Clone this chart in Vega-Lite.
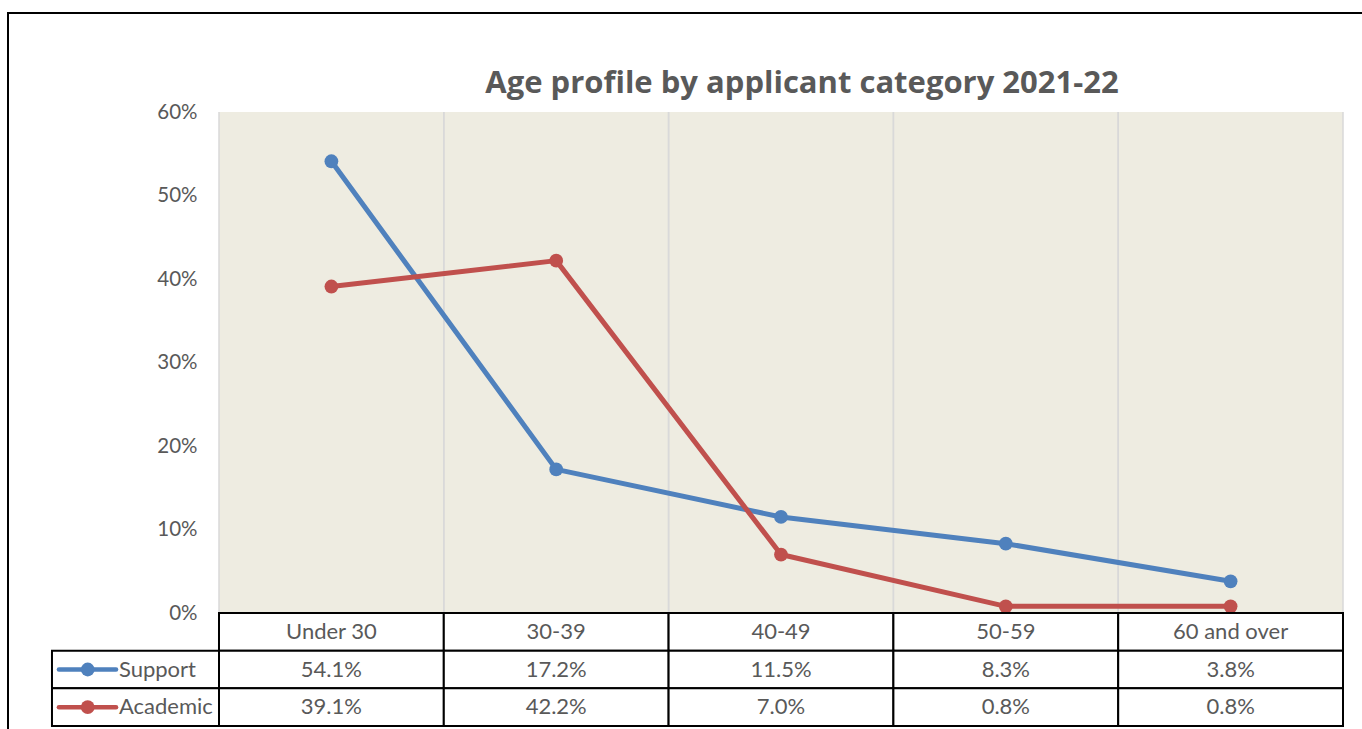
{
  "$schema": "https://vega.github.io/schema/vega-lite/v6.json",
  "width": 1354,
  "height": 716,
  "autosize": {"type": "none"},
  "padding": {"left": 8, "top": 13, "right": 0, "bottom": 0},
  "background": "white",
  "title": {
    "text": "Age profile by applicant category 2021-22",
    "anchor": "middle",
    "frame": "group",
    "dx": 117,
    "offset": -87,
    "font": "Open Sans",
    "fontSize": 31,
    "fontWeight": "bold",
    "color": "#595959"
  },
  "config": {
    "view": {"stroke": "black", "strokeWidth": 2, "strokeDash": [1354, 2070, 716]},
    "font": "Lato"
  },
  "data": {
    "values": [
      {"age": "Under 30", "series": "Support", "value": 0.541},
      {"age": "30-39", "series": "Support", "value": 0.172},
      {"age": "40-49", "series": "Support", "value": 0.115},
      {"age": "50-59", "series": "Support", "value": 0.083},
      {"age": "60 and over", "series": "Support", "value": 0.038},
      {"age": "Under 30", "series": "Academic", "value": 0.391},
      {"age": "30-39", "series": "Academic", "value": 0.422},
      {"age": "40-49", "series": "Academic", "value": 0.070},
      {"age": "50-59", "series": "Academic", "value": 0.008},
      {"age": "60 and over", "series": "Academic", "value": 0.008}
    ]
  },
  "layer": [
    {
      "layer": [
        {
          "transform": [{"filter": "datum.series === 'Support'"}],
          "mark": {"type": "rect", "fill": "#EEECE1"},
          "encoding": {
            "x": {"field": "age", "type": "nominal", "scale": {"type": "band", "domain": ["Under 30", "30-39", "40-49", "50-59", "60 and over"], "range": [211, 1335], "paddingInner": 0, "paddingOuter": 0}, "axis": null},
            "y": {"datum": 0, "type": "quantitative", "scale": {"domain": [0, 0.6], "range": [600, 99], "nice": false, "zero": false}, "axis": {"values": [0, 0.1, 0.2, 0.3, 0.4, 0.5, 0.6], "format": ".0%", "offset": -211, "ticks": false, "domain": false, "grid": false, "labelPadding": 22, "labelFontSize": 20.5, "labelColor": "#595959", "labelFont": "Lato", "title": null}},
            "y2": {"datum": 0.6}
          }
        },
        {
          "transform": [{"filter": "datum.series === 'Support'"}],
          "mark": {"type": "rule", "stroke": "#D9D9D9", "strokeWidth": 1.5},
          "encoding": {
            "x": {"field": "age", "type": "nominal", "bandPosition": 0, "scale": {"type": "band", "domain": ["Under 30", "30-39", "40-49", "50-59", "60 and over"], "range": [211, 1335], "paddingInner": 0, "paddingOuter": 0}, "axis": null},
            "y": {"datum": 0, "type": "quantitative", "scale": {"domain": [0, 0.6], "range": [600, 99], "nice": false, "zero": false}, "axis": {"values": [0, 0.1, 0.2, 0.3, 0.4, 0.5, 0.6], "format": ".0%", "offset": -211, "ticks": false, "domain": false, "grid": false, "labelPadding": 22, "labelFontSize": 20.5, "labelColor": "#595959", "labelFont": "Lato", "title": null}},
            "y2": {"datum": 0.6}
          }
        },
        {
          "transform": [{"filter": "datum.series === 'Support'"}],
          "mark": {"type": "rule", "stroke": "#D9D9D9", "strokeWidth": 1.5},
          "encoding": {
            "x": {"field": "age", "type": "nominal", "bandPosition": 1, "scale": {"type": "band", "domain": ["Under 30", "30-39", "40-49", "50-59", "60 and over"], "range": [211, 1335], "paddingInner": 0, "paddingOuter": 0}, "axis": null},
            "y": {"datum": 0, "type": "quantitative", "scale": {"domain": [0, 0.6], "range": [600, 99], "nice": false, "zero": false}, "axis": {"values": [0, 0.1, 0.2, 0.3, 0.4, 0.5, 0.6], "format": ".0%", "offset": -211, "ticks": false, "domain": false, "grid": false, "labelPadding": 22, "labelFontSize": 20.5, "labelColor": "#595959", "labelFont": "Lato", "title": null}},
            "y2": {"datum": 0.6}
          }
        },
        {
          "mark": {"type": "line", "strokeWidth": 5, "strokeCap": "round", "strokeJoin": "round"},
          "encoding": {
            "x": {"field": "age", "type": "nominal", "scale": {"type": "band", "domain": ["Under 30", "30-39", "40-49", "50-59", "60 and over"], "range": [211, 1335], "paddingInner": 0, "paddingOuter": 0}, "axis": null},
            "y": {"field": "value", "type": "quantitative", "scale": {"domain": [0, 0.6], "range": [600, 99], "nice": false, "zero": false}, "axis": {"values": [0, 0.1, 0.2, 0.3, 0.4, 0.5, 0.6], "format": ".0%", "offset": -211, "ticks": false, "domain": false, "grid": false, "labelPadding": 22, "labelFontSize": 20.5, "labelColor": "#595959", "labelFont": "Lato", "title": null}},
            "color": {"field": "series", "type": "nominal", "scale": {"domain": ["Support", "Academic"], "range": ["#4F81BD", "#C0504D"]}, "legend": null},
            "order": {"value": null}
          }
        },
        {
          "mark": {"type": "point", "filled": true, "opacity": 1, "size": 190, "shape": "circle"},
          "encoding": {
            "x": {"field": "age", "type": "nominal", "scale": {"type": "band", "domain": ["Under 30", "30-39", "40-49", "50-59", "60 and over"], "range": [211, 1335], "paddingInner": 0, "paddingOuter": 0}, "axis": null},
            "y": {"field": "value", "type": "quantitative", "scale": {"domain": [0, 0.6], "range": [600, 99], "nice": false, "zero": false}, "axis": {"values": [0, 0.1, 0.2, 0.3, 0.4, 0.5, 0.6], "format": ".0%", "offset": -211, "ticks": false, "domain": false, "grid": false, "labelPadding": 22, "labelFontSize": 20.5, "labelColor": "#595959", "labelFont": "Lato", "title": null}},
            "color": {"field": "series", "type": "nominal", "scale": {"domain": ["Support", "Academic"], "range": ["#4F81BD", "#C0504D"]}, "legend": null}
          }
        }
      ]
    },
    {
      "layer": [
        {
          "transform": [{"filter": "datum.series === 'Support'"}],
          "mark": {"type": "rect", "fill": "white", "stroke": "black", "strokeWidth": 2},
          "encoding": {
            "x": {"field": "age", "type": "nominal", "scale": {"type": "band", "domain": ["Under 30", "30-39", "40-49", "50-59", "60 and over"], "range": [211, 1335], "paddingInner": 0, "paddingOuter": 0}, "axis": null},
            "y": {"datum": "Category", "type": "nominal", "scale": {"type": "band", "domain": ["Category", "Support", "Academic"], "range": [600, 713], "paddingInner": 0, "paddingOuter": 0}, "axis": null}
          }
        },
        {
          "mark": {"type": "rect", "fill": "white", "stroke": "black", "strokeWidth": 2},
          "encoding": {
            "x": {"field": "age", "type": "nominal", "scale": {"type": "band", "domain": ["Under 30", "30-39", "40-49", "50-59", "60 and over"], "range": [211, 1335], "paddingInner": 0, "paddingOuter": 0}, "axis": null},
            "y": {"field": "series", "type": "nominal", "scale": {"type": "band", "domain": ["Category", "Support", "Academic"], "range": [600, 713], "paddingInner": 0, "paddingOuter": 0}, "axis": null}
          }
        },
        {
          "transform": [{"filter": "datum.age === 'Under 30'"}],
          "mark": {"type": "rect", "fill": "white", "stroke": "black", "strokeWidth": 2},
          "encoding": {
            "x": {"datum": "Under 30", "type": "nominal", "bandPosition": -0.743, "scale": {"type": "band", "domain": ["Under 30", "30-39", "40-49", "50-59", "60 and over"], "range": [211, 1335], "paddingInner": 0, "paddingOuter": 0}, "axis": null},
            "x2": {"datum": "Under 30", "bandPosition": 0},
            "y": {"field": "series", "type": "nominal", "scale": {"type": "band", "domain": ["Category", "Support", "Academic"], "range": [600, 713], "paddingInner": 0, "paddingOuter": 0}, "axis": null}
          }
        },
        {
          "transform": [{"filter": "datum.series === 'Support'"}],
          "mark": {"type": "text", "fontSize": 22, "color": "#595959", "baseline": "middle", "align": "center"},
          "encoding": {
            "x": {"field": "age", "type": "nominal", "scale": {"type": "band", "domain": ["Under 30", "30-39", "40-49", "50-59", "60 and over"], "range": [211, 1335], "paddingInner": 0, "paddingOuter": 0}, "axis": null},
            "y": {"datum": "Category", "type": "nominal", "bandPosition": 0.5, "scale": {"type": "band", "domain": ["Category", "Support", "Academic"], "range": [600, 713], "paddingInner": 0, "paddingOuter": 0}, "axis": null},
            "text": {"field": "age", "type": "nominal"}
          }
        },
        {
          "mark": {"type": "text", "fontSize": 22, "color": "#595959", "baseline": "middle", "align": "center"},
          "encoding": {
            "x": {"field": "age", "type": "nominal", "scale": {"type": "band", "domain": ["Under 30", "30-39", "40-49", "50-59", "60 and over"], "range": [211, 1335], "paddingInner": 0, "paddingOuter": 0}, "axis": null},
            "y": {"field": "series", "type": "nominal", "bandPosition": 0.5, "scale": {"type": "band", "domain": ["Category", "Support", "Academic"], "range": [600, 713], "paddingInner": 0, "paddingOuter": 0}, "axis": null},
            "text": {"field": "value", "type": "quantitative", "format": ".1%"}
          }
        },
        {
          "transform": [{"filter": "datum.age === 'Under 30'"}],
          "mark": {"type": "rule", "strokeWidth": 4.5, "strokeCap": "round"},
          "encoding": {
            "x": {"datum": "Under 30", "type": "nominal", "bandPosition": -0.712, "scale": {"type": "band", "domain": ["Under 30", "30-39", "40-49", "50-59", "60 and over"], "range": [211, 1335], "paddingInner": 0, "paddingOuter": 0}, "axis": null},
            "x2": {"datum": "Under 30", "bandPosition": -0.458},
            "y": {"field": "series", "type": "nominal", "bandPosition": 0.5, "scale": {"type": "band", "domain": ["Category", "Support", "Academic"], "range": [600, 713], "paddingInner": 0, "paddingOuter": 0}, "axis": null},
            "color": {"field": "series", "type": "nominal", "scale": {"domain": ["Support", "Academic"], "range": ["#4F81BD", "#C0504D"]}, "legend": null}
          }
        },
        {
          "transform": [{"filter": "datum.age === 'Under 30'"}],
          "mark": {"type": "point", "filled": true, "opacity": 1, "size": 190, "shape": "circle"},
          "encoding": {
            "x": {"datum": "Under 30", "type": "nominal", "bandPosition": -0.584, "scale": {"type": "band", "domain": ["Under 30", "30-39", "40-49", "50-59", "60 and over"], "range": [211, 1335], "paddingInner": 0, "paddingOuter": 0}, "axis": null},
            "y": {"field": "series", "type": "nominal", "bandPosition": 0.5, "scale": {"type": "band", "domain": ["Category", "Support", "Academic"], "range": [600, 713], "paddingInner": 0, "paddingOuter": 0}, "axis": null},
            "color": {"field": "series", "type": "nominal", "scale": {"domain": ["Support", "Academic"], "range": ["#4F81BD", "#C0504D"]}, "legend": null}
          }
        },
        {
          "transform": [{"filter": "datum.age === 'Under 30'"}],
          "mark": {"type": "text", "fontSize": 22, "color": "#595959", "baseline": "middle", "align": "left"},
          "encoding": {
            "x": {"datum": "Under 30", "type": "nominal", "bandPosition": -0.445, "scale": {"type": "band", "domain": ["Under 30", "30-39", "40-49", "50-59", "60 and over"], "range": [211, 1335], "paddingInner": 0, "paddingOuter": 0}, "axis": null},
            "y": {"field": "series", "type": "nominal", "bandPosition": 0.5, "scale": {"type": "band", "domain": ["Category", "Support", "Academic"], "range": [600, 713], "paddingInner": 0, "paddingOuter": 0}, "axis": null},
            "text": {"field": "series", "type": "nominal"}
          }
        }
      ]
    }
  ],
  "resolve": {"scale": {"y": "independent"}, "axis": {"y": "independent"}}
}
